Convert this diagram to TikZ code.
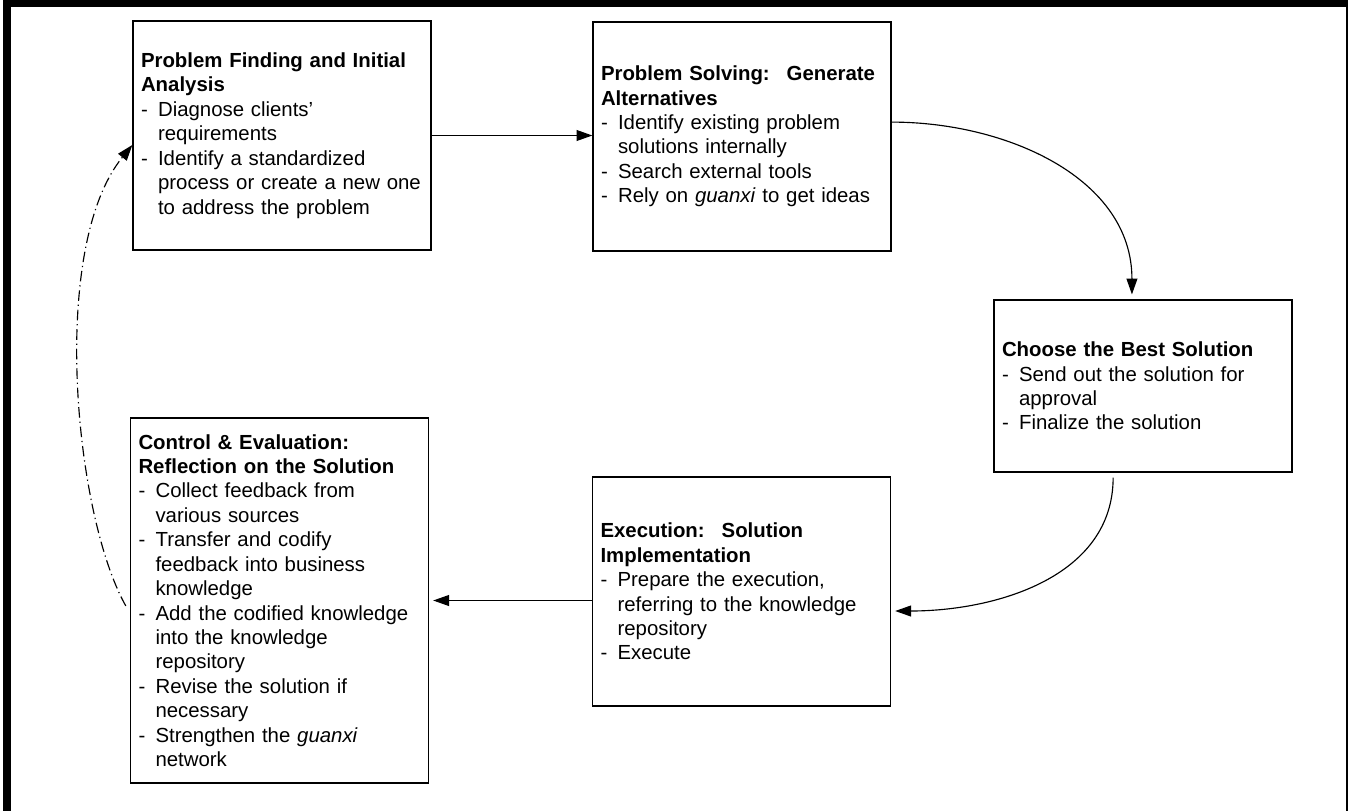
\documentclass[tikz,border=0pt]{standalone}
\usepackage{fontspec}
\setmainfont{Liberation Sans}
\usetikzlibrary{arrows.meta}

\newcommand{\dsh}{\makebox[9.7pt][l]{-}}
\newcommand{\hng}{\hspace*{9.7pt}}

\tikzset{
  stage/.style={draw, line width=0.75pt, text width=160.5pt, inner xsep=4.55pt,
    align=left, font=\fontsize{11.6}{13.9}\selectfont},
  flow/.style={line width=0.65pt, -{Triangle[length=9pt,width=6.2pt]}},
  loopback/.style={flow, dash pattern=on 6pt off 2.2pt on 0.7pt off 2.2pt},
}

\begin{document}
\begin{tikzpicture}[x=0.02cm, y=0.02cm]
    \useasboundingbox (0,0) rectangle (1348,-811);

    % frame
    \fill (3,0) rectangle (1348,-7);
    \fill (3,0) rectangle (11,-811);
    \fill (1346,0) rectangle (1348,-811);

    \node [stage, minimum height=130.3pt] (find) at (282,-135.5) {%
      \textbf{Problem Finding and Initial}\\
      \textbf{Analysis}\\
      \dsh Diagnose clients’\\
      \hng requirements\\
      \dsh Identify a standardized\\
      \hng process or create a new one\\
      \hng to address the problem};

    \node [stage, minimum height=130.3pt] (solve) at (742,-136.5) {%
      \textbf{Problem Solving:~ Generate}\\
      \textbf{Alternatives}\\
      \dsh Identify existing problem\\
      \hng solutions internally\\
      \dsh Search external tools\\
      \dsh Rely on \textit{guanxi} to get ideas};

    \node [stage, minimum height=97.9pt] (choose) at (1143,-386) {%
      \textbf{Choose the Best Solution}\\
      \dsh Send out the solution for\\
      \hng approval\\
      \dsh Finalize the solution};

    \node [stage, minimum height=130.3pt] (exec) at (741.5,-591.5) {%
      \textbf{Execution:~ Solution}\\
      \textbf{Implementation}\\
      \dsh Prepare the execution,\\
      \hng referring to the knowledge\\
      \hng repository\\
      \dsh Execute};

    \node [stage, minimum height=207.7pt] (control) at (279.5,-600.5) {%
      \textbf{Control \& Evaluation:}\\
      \textbf{Reflection on the Solution}\\
      \dsh Collect feedback from\\
      \hng various sources\\
      \dsh Transfer and codify\\
      \hng feedback into business\\
      \hng knowledge\\
      \dsh Add the codified knowledge\\
      \hng into the knowledge\\
      \hng repository\\
      \dsh Revise the solution if\\
      \hng necessary\\
      \dsh Strengthen the \textit{guanxi}\\
      \hng network};

    \draw [flow] (find.east) -- (find.east -| solve.west);
    \draw [flow] ([yshift=8.2pt]solve.east) to[out=0,in=90] ([xshift=-6.3pt,yshift=2.8pt]choose.north);
    \draw [flow] ([xshift=-17pt,yshift=-2.8pt]choose.south) to[out=-90,in=0] ([xshift=2.3pt,yshift=-11.1pt]exec.east);
    \draw [flow] (exec.west |- control.east) -- ([xshift=2.3pt]control.east);
    \draw [loopback] ([xshift=-2.3pt,yshift=-3.1pt]control.west)
      .. controls (74.6,-515.2) and (48.7,-247.8) .. ([yshift=-5.4pt]find.west);

\end{tikzpicture}
\end{document}
